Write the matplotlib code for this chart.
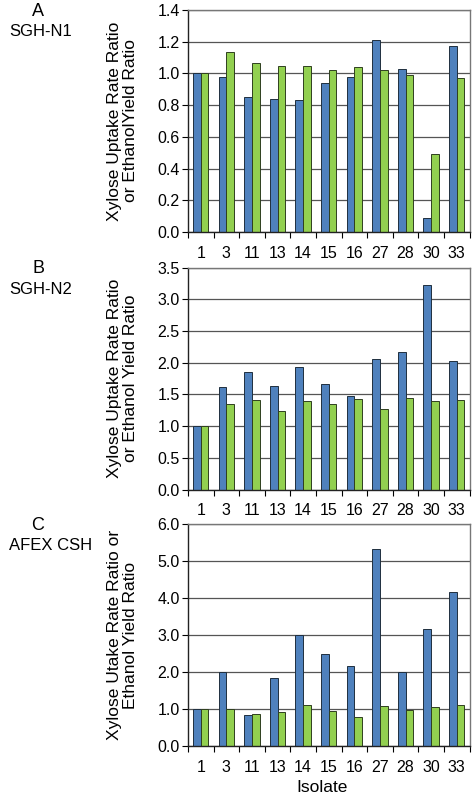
import numpy as np
import matplotlib.pyplot as plt
from matplotlib.ticker import FixedLocator

plt.rcParams['font.family'] = ['Liberation Sans', 'DejaVu Sans']

isolates = ['1', '3', '11', '13', '14', '15', '16', '27', '28', '30', '33']

# panel A - SGH-N1
xyl_a = [1.00, 0.975, 0.85, 0.84, 0.83, 0.94, 0.975, 1.21, 1.03, 0.09, 1.17]
eth_a = [1.00, 1.135, 1.065, 1.045, 1.05, 1.02, 1.04, 1.02, 0.99, 0.49, 0.97]
# panel B - SGH-N2
xyl_b = [1.00, 1.61, 1.85, 1.625, 1.925, 1.665, 1.47, 2.06, 2.165, 3.22, 2.025]
eth_b = [1.00, 1.345, 1.415, 1.245, 1.40, 1.345, 1.43, 1.27, 1.445, 1.40, 1.415]
# panel C - AFEX CSH
xyl_c = [1.00, 2.00, 0.85, 1.84, 3.00, 2.50, 2.17, 5.33, 2.00, 3.17, 4.17]
eth_c = [1.00, 1.01, 0.87, 0.92, 1.11, 0.94, 0.79, 1.09, 0.97, 1.06, 1.11]

panels = [
    ('A', 'SGH-N1', xyl_a, eth_a, 1.4, 0.2,
     'Xylose Uptake Rate Ratio\nor EthanolYield Ratio'),
    ('B', 'SGH-N2', xyl_b, eth_b, 3.5, 0.5,
     'Xylose Uptake Rate Ratio\nor Ethanol Yield Ratio'),
    ('C', 'AFEX CSH', xyl_c, eth_c, 6.0, 1.0,
     'Xylose Utake Rate Ratio or\nEthanol Yield Ratio'),
]

blue = '#4f81bd'
green = '#92d050'

fig = plt.figure(figsize=(4.72, 7.95), dpi=100)
tops = [10, 267.5, 524]
H = 795.0
ax_h = 222 / H
x = np.arange(len(isolates))
w = 0.3

for (letter, name, xyl, eth, ymax, step, ylab), top in zip(panels, tops):
    ax = fig.add_axes([188 / 472, 1 - top / H - ax_h, 281.5 / 472, ax_h])
    ax.set_axisbelow(True)
    ax.bar(x - w / 2, xyl, w, color=blue, edgecolor='#1f2f3f', linewidth=0.7)
    ax.bar(x + w / 2, eth, w, color=green, edgecolor='#2f3f1f', linewidth=0.7)
    ax.set_xlim(-0.5, len(isolates) - 0.5)
    ax.set_ylim(0, ymax)
    ticks = np.arange(0, ymax + step / 2, step)
    ax.set_yticks(ticks)
    ax.set_yticklabels([f'{v:.1f}' for v in ticks])
    ax.yaxis.grid(True, color='#555555', linewidth=0.9)
    ax.set_xticks(x)
    ax.set_xticklabels(isolates)
    ax.xaxis.set_minor_locator(FixedLocator(np.arange(-0.5, len(isolates), 1.0)))
    ax.tick_params(axis='x', which='major', length=0, pad=10, labelsize=11.5)
    ax.tick_params(axis='x', which='minor', length=4, width=0.8, direction='out')
    ax.tick_params(axis='y', length=4, width=0.8, direction='out', labelsize=11.5, pad=2)
    for s in ['top', 'right']:
        ax.spines[s].set_color('#777777')
        ax.spines[s].set_linewidth(1.0)
    for s in ['left', 'bottom']:
        ax.spines[s].set_color('#222222')
        ax.spines[s].set_linewidth(1.0)
    ax.set_ylabel(ylab, fontsize=12.5, linespacing=1.1, labelpad=14)
    fig.text(38 / 472, 1 - (top + 1) / H, letter, fontsize=13, ha='center', va='center')
    fig.text(9 / 472, 1 - (top + 22) / H, name, fontsize=12, ha='left', va='center')

fig.text(322 / 472, 1 - 787 / H, 'Isolate', fontsize=12.5, ha='center', va='center')

fig.savefig('out.png', dpi=100)
